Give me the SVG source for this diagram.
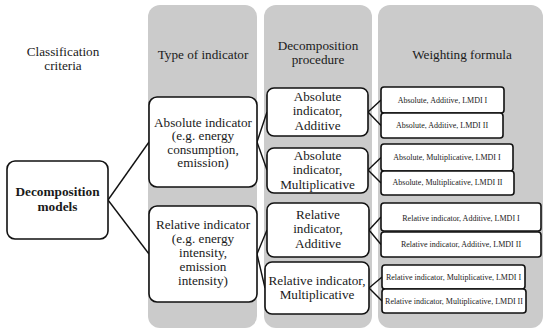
<svg xmlns="http://www.w3.org/2000/svg" width="550" height="334" viewBox="0 0 550 334" font-family="'Liberation Serif', 'Times New Roman', serif">
<style>
.col{fill:#cbcbcb;stroke:none}
.box{fill:#fff;stroke:#111;stroke-width:1.6}
.t{font-family:"Liberation Serif","Times New Roman",serif;fill:#1a1a1a;text-anchor:middle}
.h{font-size:13.2px}
.m{font-size:13.2px}
.b{font-size:13.3px;font-weight:bold}
.s{font-size:8px}
.c line{stroke:#111;stroke-width:1.4;fill:none}
</style>
<rect width="550" height="334" fill="#fff"/>
<g id="columns">
<rect class="col" x="148" y="5" width="109" height="323" rx="12"/>
<rect class="col" x="264" y="5" width="108" height="323" rx="12"/>
<rect class="col" x="378" y="5" width="165" height="323" rx="12"/>
</g>
<g id="headers">
<text class="t h" x="63" y="56">Classification</text>
<text class="t h" x="63" y="70">criteria</text>
<text class="t h" x="203" y="59">Type of indicator</text>
<text class="t h" x="318" y="50">Decomposition</text>
<text class="t h" x="318" y="64">procedure</text>
<text class="t h" x="462" y="59">Weighting formula</text>
</g>
<g class="c" id="connectors">
<line x1="108" y1="200" x2="149" y2="142"/>
<line x1="108" y1="200" x2="149" y2="254"/>
<line x1="257" y1="142" x2="267" y2="112"/>
<line x1="257" y1="142" x2="267" y2="170"/>
<line x1="257" y1="254" x2="267" y2="230"/>
<line x1="257" y1="254" x2="265" y2="288"/>
<line x1="368" y1="112" x2="381" y2="100"/>
<line x1="368" y1="112" x2="381" y2="125.5"/>
<line x1="368" y1="170" x2="381" y2="157.5"/>
<line x1="368" y1="170" x2="381" y2="183"/>
<line x1="369" y1="230" x2="381" y2="217"/>
<line x1="369" y1="230" x2="381" y2="244.5"/>
<line x1="369" y1="288" x2="382" y2="277"/>
<line x1="369" y1="288" x2="382" y2="301"/>
</g>
<g id="decomposition-models">
<rect class="box" x="7" y="161" width="101" height="78" rx="8"/>
<text class="t b" x="57.5" y="196">Decomposition</text>
<text class="t b" x="57.5" y="211">models</text>
</g>
<g id="absolute-indicator">
<rect class="box" x="149" y="97" width="108" height="90" rx="8"/>
<text class="t m" x="203" y="126.5">Absolute indicator</text>
<text class="t m" x="203" y="140">(e.g. energy</text>
<text class="t m" x="203" y="153.5">consumption,</text>
<text class="t m" x="203" y="167">emission)</text>
</g>
<g id="relative-indicator">
<rect class="box" x="149" y="206" width="108" height="96" rx="8"/>
<text class="t m" x="203" y="229">Relative indicator</text>
<text class="t m" x="203" y="243">(e.g. energy</text>
<text class="t m" x="203" y="257">intensity,</text>
<text class="t m" x="203" y="271">emission</text>
<text class="t m" x="203" y="285">intensity)</text>
</g>
<g id="abs-additive">
<rect class="box" x="267" y="88" width="101" height="48" rx="7"/>
<text class="t m" x="317.5" y="100.5">Absolute</text>
<text class="t m" x="317.5" y="115">indicator,</text>
<text class="t m" x="317.5" y="129.5">Additive</text>
</g>
<g id="abs-multiplicative">
<rect class="box" x="267" y="148" width="101" height="45" rx="7"/>
<text class="t m" x="317.5" y="160">Absolute</text>
<text class="t m" x="317.5" y="174">indicator,</text>
<text class="t m" x="317.5" y="189">Multiplicative</text>
</g>
<g id="rel-additive">
<rect class="box" x="267" y="203" width="102" height="54" rx="7"/>
<text class="t m" x="318" y="219">Relative</text>
<text class="t m" x="318" y="233">indicator,</text>
<text class="t m" x="318" y="248">Additive</text>
</g>
<g id="rel-multiplicative">
<rect class="box" x="265" y="262" width="104" height="52" rx="7"/>
<text class="t m" x="317" y="285">Relative indicator,</text>
<text class="t m" x="317" y="299">Multiplicative</text>
</g>
<g id="w-aa1">
<rect class="box" x="381" y="87" width="123" height="26" rx="3"/>
<text class="t s" x="442.5" y="103">Absolute, Additive, LMDI I</text>
</g>
<g id="w-aa2">
<rect class="box" x="381" y="113" width="122" height="25" rx="3"/>
<text class="t s" x="442" y="128">Absolute, Additive, LMDI II</text>
</g>
<g id="w-am1">
<rect class="box" x="381" y="144" width="132" height="27" rx="3"/>
<text class="t s" x="447" y="160">Absolute, Multiplicative, LMDI I</text>
</g>
<g id="w-am2">
<rect class="box" x="381" y="171" width="133" height="24" rx="3"/>
<text class="t s" x="447.5" y="185">Absolute, Multiplicative, LMDI II</text>
</g>
<g id="w-ra1">
<rect class="box" x="381" y="203" width="160" height="28" rx="3"/>
<text class="t s" x="461" y="221">Relative indicator, Additive, LMDI I</text>
</g>
<g id="w-ra2">
<rect class="box" x="381" y="232" width="160" height="25" rx="3"/>
<text class="t s" x="461" y="247">Relative indicator, Additive, LMDI II</text>
</g>
<g id="w-rm1">
<rect class="box" x="382" y="265" width="143" height="24" rx="3"/>
<text class="t s" x="453.5" y="280">Relative indicator, Multiplicative, LMDI I</text>
</g>
<g id="w-rm2">
<rect class="box" x="382" y="289" width="144" height="24" rx="3"/>
<text class="t s" x="454" y="304">Relative indicator, Multiplicative, LMDI II</text>
</g>
</svg>
